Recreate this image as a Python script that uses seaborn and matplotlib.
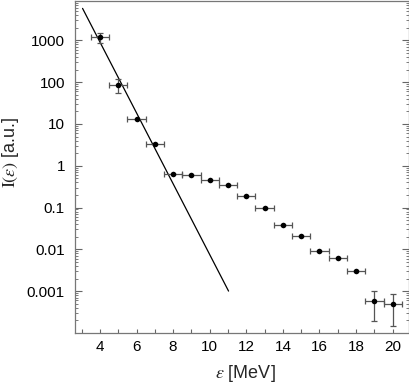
import numpy as np
import matplotlib
matplotlib.use("Agg")
import matplotlib.pyplot as plt
import matplotlib.ticker as mticker
import seaborn as sns

energy = [4, 5, 6, 7, 8, 9, 10, 11, 12, 13, 14, 15, 16, 17, 18, 19, 20]
intensity = [1180, 85, 13.2, 3.4, 0.64, 0.61, 0.46, 0.35, 0.19, 0.10,
             0.039, 0.0205, 0.0091, 0.0061, 0.0030, 0.00059, 0.0005]
err_hi = [1530, 118, 0, 0, 0, 0, 0, 0, 0, 0, 0, 0, 0, 0, 0, 0.00100, 0.00083]
err_lo = [862, 54, 0, 0, 0, 0, 0, 0, 0, 0, 0, 0, 0, 0, 0, 0.00019, 0.00015]
energy_bin = 0.5

# exponential fit line (end points)
fit_x = [3.05, 11.03]
fit_y = [5830, 0.001]

sns.set_style("ticks")
plt.rcParams['font.family'] = ['Liberation Sans', 'DejaVu Sans']
plt.rcParams['mathtext.fontset'] = 'stix'

fig = plt.figure(figsize=(4.09, 3.87), dpi=100)
ax = fig.add_axes([0.1826, 0.1387, 0.8164, 0.860])

y = np.array(intensity)
lo = np.where(np.array(err_lo) > 0, y - np.array(err_lo), 0)
hi = np.where(np.array(err_hi) > 0, np.array(err_hi) - y, 0)

sns.lineplot(x=fit_x, y=fit_y, ax=ax, color="black", linewidth=0.9)
ax.errorbar(energy, intensity, xerr=energy_bin, yerr=[lo, hi], fmt="none",
            ecolor="#555555", elinewidth=0.9, capsize=2, capthick=0.9)
sns.scatterplot(x=energy, y=intensity, ax=ax, color="black", s=16,
                edgecolor="black", linewidth=0, zorder=5)

ax.set_yscale("log")
ax.set_xlim(2.62, 20.87)
ax.set_ylim(9.75e-5, 9.0e3)

ax.set_xticks(np.arange(4, 21, 2))
ax.xaxis.set_minor_locator(mticker.MultipleLocator(1))
ax.set_yticks([1e-3, 1e-2, 1e-1, 1, 10, 100, 1000])
ax.set_yticklabels(["0.001", "0.01", "0.1", "1", "10", "100", "1000"])
ax.yaxis.set_minor_locator(mticker.LogLocator(base=10, subs=np.arange(2, 10)))
ax.yaxis.set_minor_formatter(mticker.NullFormatter())

ax.tick_params(which="both", direction="in", right=True, top=False,
               color="#666666", labelsize=11, labelcolor="black")
ax.tick_params(axis="y", which="major", length=5, width=0.8, pad=7)
ax.tick_params(axis="y", which="minor", length=2.5, width=0.6)
ax.tick_params(axis="x", which="both", length=3, width=0.8, pad=5)

for s in ax.spines.values():
    s.set_color("#777777")
    s.set_linewidth(0.9)

ax.set_xlabel(r"$\varepsilon$ [MeV]", fontsize=13)
ax.set_ylabel(r"$\mathrm{I}(\varepsilon)$ [a.u.]", fontsize=13)
ax.xaxis.set_label_coords(0.51, -0.088)
ax.yaxis.set_label_coords(-0.16, 0.545)

fig.savefig("out.png", dpi=100)
